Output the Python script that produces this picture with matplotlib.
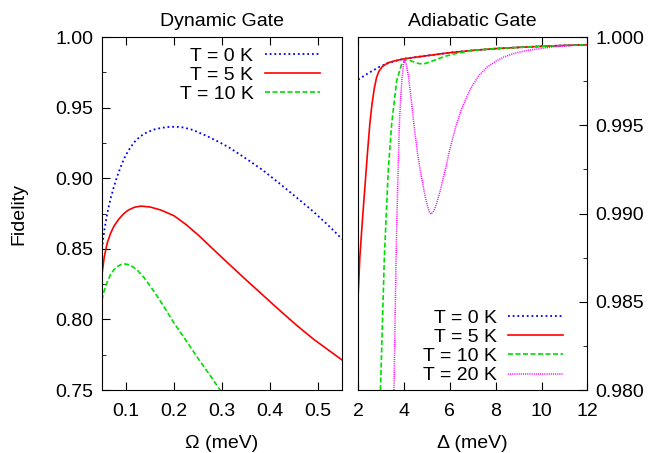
import matplotlib
matplotlib.use("Agg")
import matplotlib.pyplot as plt
from matplotlib.ticker import MultipleLocator, FormatStrFormatter

plt.rcParams['font.family'] = ['Liberation Sans', 'DejaVu Sans']
plt.rcParams['font.size'] = 14

# Dynamic gate: fidelity vs Omega (meV)
om_t0 = [0.05, 0.055, 0.061, 0.068, 0.075, 0.082, 0.089, 0.097, 0.105, 0.117, 0.13,
         0.145, 0.16, 0.175, 0.19, 0.205, 0.22, 0.24, 0.27, 0.295, 0.316, 0.35,
         0.385, 0.42, 0.455, 0.49, 0.525, 0.55]
f_t0 = [0.850, 0.863, 0.875, 0.8855, 0.894, 0.9015, 0.908, 0.9145, 0.9195, 0.9255,
        0.9298, 0.9328, 0.9347, 0.9358, 0.9364, 0.9365, 0.9360, 0.9342, 0.9297,
        0.9255, 0.9216, 0.914, 0.9058, 0.8963, 0.8865, 0.8765, 0.8655, 0.857]

om_t5 = [0.05, 0.055, 0.061, 0.068, 0.075, 0.085, 0.095, 0.105, 0.118, 0.131, 0.15,
         0.173, 0.2, 0.225, 0.25, 0.28, 0.316, 0.35, 0.385, 0.42, 0.455, 0.49,
         0.525, 0.55]
f_t5 = [0.8315, 0.8445, 0.854, 0.861, 0.866, 0.8710, 0.8748, 0.8775, 0.8795, 0.8803,
        0.8797, 0.8775, 0.8735, 0.8673, 0.8600, 0.8503, 0.8388, 0.8281, 0.8173,
        0.8065, 0.796, 0.7862, 0.7775, 0.7713]

om_t10 = [0.05, 0.055, 0.061, 0.068, 0.075, 0.082, 0.09, 0.098, 0.106, 0.115, 0.124,
          0.137, 0.151, 0.167, 0.183, 0.2, 0.225, 0.25, 0.275, 0.30]
f_t10 = [0.8137, 0.8205, 0.8265, 0.8318, 0.8352, 0.8375, 0.8389, 0.8393, 0.8388,
         0.8372, 0.8348, 0.8300, 0.8235, 0.8155, 0.807, 0.7975, 0.7852, 0.7725,
         0.7605, 0.748]

# Adiabatic gate: fidelity vs Delta (meV)
de_t0 = [2.0, 2.3, 2.59, 2.9, 3.31, 3.6, 4.0, 5.0, 6.0, 7.0, 8.0, 9.0, 10.0, 11.0, 12.0]
fa_t0 = [0.99759, 0.99785, 0.99807, 0.99830, 0.99853, 0.99864, 0.99878, 0.99895,
         0.99912, 0.99925, 0.99935, 0.99942, 0.99948, 0.99953, 0.99957]

de_t5 = [2.0, 2.07, 2.18, 2.29, 2.4, 2.51, 2.6, 2.7, 2.8, 2.9, 3.05, 3.3, 3.6, 4.04,
         5.0, 6.0, 7.0, 8.0, 9.0, 10.0, 11.0, 12.0]
fa_t5 = [0.9855, 0.98754, 0.9896, 0.9915, 0.9934, 0.99515, 0.9962, 0.9971, 0.99772,
         0.99806, 0.99833, 0.99855, 0.99866, 0.99878, 0.99895, 0.99912, 0.99925,
         0.99935, 0.99942, 0.99948, 0.99953, 0.99957]

de_t10 = [2.97, 3.14, 3.31, 3.46, 3.68, 3.9, 4.0, 4.12, 4.3, 4.5, 4.7, 4.9, 5.1, 5.3,
          5.5, 5.8, 6.23, 7.0, 8.0, 9.0, 10.0, 11.0, 12.0]
fa_t10 = [0.9800, 0.98754, 0.99245, 0.9951, 0.99755, 0.99849, 0.99866, 0.99874,
          0.99866, 0.99855, 0.99849, 0.99850, 0.99858, 0.99868, 0.99878, 0.99892,
          0.99906, 0.99925, 0.99935, 0.99942, 0.99948, 0.99953, 0.99957]

de_t20 = [3.56, 3.65, 3.72, 3.8, 3.9, 3.97, 4.02, 4.1, 4.2, 4.3, 4.4, 4.5, 4.6, 4.7,
          4.8, 4.9, 5.0, 5.1, 5.17, 5.3, 5.42, 5.6, 5.79, 6.0, 6.23, 6.5, 6.89, 7.25,
          7.62, 8.0, 8.35, 8.8, 9.37, 10.39, 11.0, 12.0]
fa_t20 = [0.9800, 0.9875, 0.9915, 0.99528, 0.99755, 0.99840, 0.99875, 0.99845,
          0.9977, 0.9966, 0.9954, 0.9943, 0.9933, 0.9925, 0.9918, 0.9911, 0.99055,
          0.9901, 0.98997, 0.99015, 0.99056, 0.99140, 0.99245, 0.99365, 0.99480,
          0.99590, 0.99705, 0.99780, 0.99830, 0.99863, 0.99887, 0.99908, 0.99925,
          0.99943, 0.99951, 0.99957]

labels = ['T = 0 K', 'T = 5 K', 'T = 10 K', 'T = 20 K']
colors = ['#0000ff', '#ff0000', '#00dd00', '#ff00ff']
styles = [(0, (1, 1.6)), '-', (0, (3, 1.5)), (0, (0.7, 0.7))]

fig = plt.figure(figsize=(6.49, 4.53), dpi=100)
ax1 = fig.add_axes([0.157, 0.139, 0.370, 0.779])
ax2 = fig.add_axes([0.552, 0.139, 0.353, 0.779])

ax1.plot(om_t0, f_t0, color=colors[0], ls=styles[0], lw=1.3, label=labels[0])
ax1.plot(om_t5, f_t5, color=colors[1], ls=styles[1], lw=1.2, label=labels[1])
ax1.plot(om_t10, f_t10, color=colors[2], ls=styles[2], lw=1.2, label=labels[2])

ax2.plot(de_t0, fa_t0, color=colors[0], ls=styles[0], lw=1.3, label=labels[0])
ax2.plot(de_t5, fa_t5, color=colors[1], ls=styles[1], lw=1.2, label=labels[1])
ax2.plot(de_t10, fa_t10, color=colors[2], ls=styles[2], lw=1.2, label=labels[2])
ax2.plot(de_t20, fa_t20, color=colors[3], ls=styles[3], lw=1.1, label=labels[3])

ax1.set_xlim(0.05, 0.55)
ax1.set_ylim(0.75, 1.0)
ax1.xaxis.set_major_locator(MultipleLocator(0.1))
ax1.yaxis.set_major_locator(MultipleLocator(0.05))
ax1.yaxis.set_minor_locator(MultipleLocator(0.025))
ax1.yaxis.set_major_formatter(FormatStrFormatter('%.2f'))
ax1.tick_params(which='both', direction='in', top=True, right=False)
ax1.tick_params(which='major', length=6)
ax1.tick_params(which='minor', length=3)
ax1.set_xlabel('Ω (meV)', labelpad=11)
ax1.set_ylabel('Fidelity', labelpad=20)
ax1.set_title('Dynamic Gate', fontsize=14, pad=8)

ax2.set_xlim(2, 12)
ax2.set_ylim(0.98, 1.0)
ax2.xaxis.set_major_locator(MultipleLocator(2))
ax2.yaxis.set_major_locator(MultipleLocator(0.005))
ax2.yaxis.set_minor_locator(MultipleLocator(0.0025))
ax2.yaxis.set_major_formatter(FormatStrFormatter('%.3f'))
ax2.yaxis.tick_right()
ax2.tick_params(which='both', direction='in', top=True, left=False, right=True)
ax2.tick_params(which='major', length=6)
ax2.tick_params(which='minor', length=3)
ax2.set_xlabel('Δ (meV)', labelpad=11)
ax2.set_title('Adiabatic Gate', fontsize=14, pad=8)

for ax in (ax1, ax2):
    ax.tick_params(axis='x', pad=9)
    ax.tick_params(axis='y', pad=6)

leg_kw = dict(frameon=False, markerfirst=False, handlelength=2.8,
              handletextpad=0.6, labelspacing=0.08)
ax1.legend(loc='upper right', bbox_to_anchor=(0.947, 0.999), borderaxespad=0.1, **leg_kw)
ax2.legend(loc='lower right', bbox_to_anchor=(0.927, -0.006), borderaxespad=0.0, **leg_kw)

fig.savefig('out.png', dpi=100)
